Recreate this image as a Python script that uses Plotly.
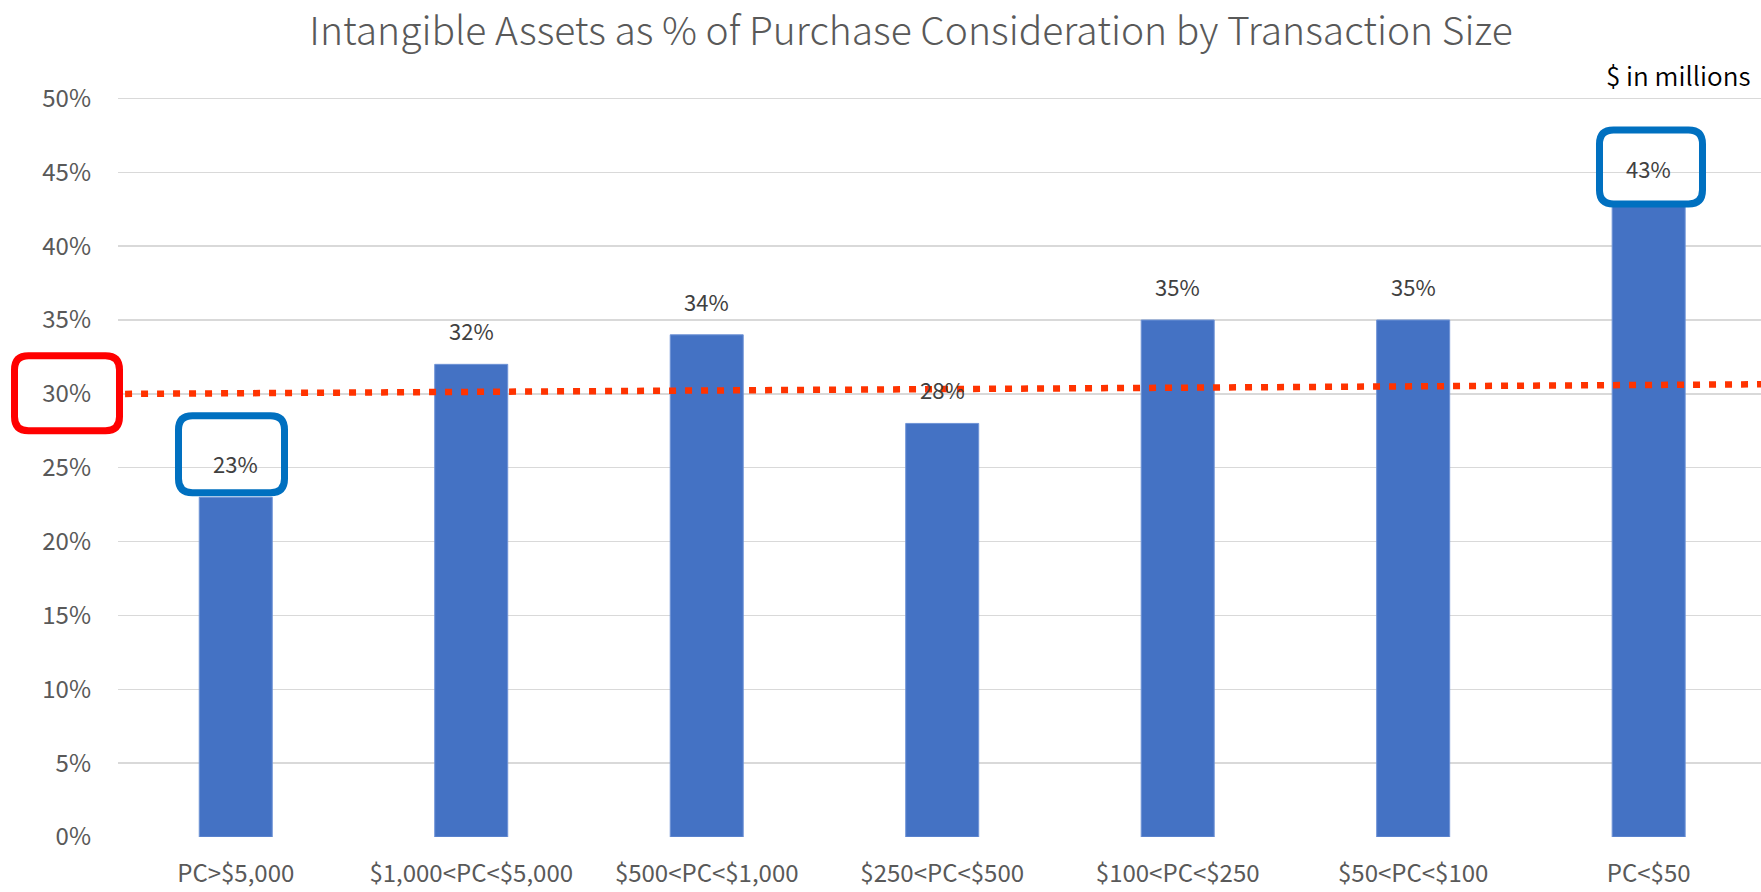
import plotly.graph_objects as go

# ---- data ----
categories = ["PC>$5,000", "$1,000<PC<$5,000", "$500<PC<$1,000", "$250<PC<$500",
              "$100<PC<$250", "$50<PC<$100", "PC<$50"]
values = [23, 32, 34, 28, 35, 35, 43]
y_ticks = [0, 5, 10, 15, 20, 25, 30, 35, 40, 45, 50]
ref_line_x = [-0.47, 6.48]
ref_line_y = [30.0, 30.65]

TITLE = "Intangible Assets as % of Purchase Consideration by Transaction Size"
NOTE = "$ in millions"

# ---- layout geometry (screen pixels; page body margin is removed) ----
W, H = 1761, 892
Y_TOP = 50.1
S_PL, S_PR, S_Y0, S_Y50 = 118, W, 837, 98   # plot left/right, y of 0% and 50%
ppu = (S_Y0 - S_Y50) / 50.0
S_PT = S_Y50 - (Y_TOP - 50) * ppu
L, R = S_PL, 0
T = S_PT
B = H - S_Y0

FONT = "Noto Sans CJK KR"

def px2paper(x, y):
    return (x - S_PL) / (S_PR - S_PL), (S_Y0 - y) / (S_Y0 - S_PT)

def rounded_rect(x0, y0, x1, y1, r):
    def P(x, y):
        a, b = px2paper(x, y)
        return f"{a:.5f},{b:.5f}"
    return (f"M {P(x0 + r, y0)} L {P(x1 - r, y0)} Q {P(x1, y0)} {P(x1, y0 + r)} "
            f"L {P(x1, y1 - r)} Q {P(x1, y1)} {P(x1 - r, y1)} "
            f"L {P(x0 + r, y1)} Q {P(x0, y1)} {P(x0, y1 - r)} "
            f"L {P(x0, y0 + r)} Q {P(x0, y0)} {P(x0 + r, y0)} Z")

fig = go.Figure()
fig.add_trace(go.Bar(
    x=list(range(len(categories))), y=values, width=0.31,
    marker=dict(color="#4472C4", line=dict(color="#6F93D6", width=1)),
    hoverinfo="skip", showlegend=False,
))
fig.add_trace(go.Scatter(
    x=ref_line_x, y=ref_line_y, mode="lines",
    line=dict(color="#FF3300", width=6.5, dash="7px,9px"),
    hoverinfo="skip", showlegend=False,
))

annotations = []
for i, v in enumerate(values):
    annotations.append(dict(x=i, y=v, text=f"{v}%", showarrow=False, yshift=34,
                            font=dict(family=FONT, size=22, color="#404040")))
nx, ny = px2paper(1752, 74)
annotations.append(dict(x=nx, y=ny, xref="paper", yref="paper", text=NOTE,
                        showarrow=False, xanchor="right", yanchor="middle",
                        font=dict(family=FONT, size=26, color="#000000", weight=350)))

shapes = []
for (x0, y0, x1, y1, col) in [(14.5, 355.5, 119.5, 430.5, "#FF0000"),
                              (178.5, 415.5, 284.5, 492.5, "#0070C0"),
                              (1599.5, 129.5, 1702.5, 203.5, "#0070C0")]:
    shapes.append(dict(type="path", xref="paper", yref="paper",
                       path=rounded_rect(x0, y0, x1, y1, 14),
                       line=dict(color=col, width=7), layer="above"))

fig.update_layout(
    width=W, height=H,
    margin=dict(l=L, r=R, t=T, b=B, pad=0),
    paper_bgcolor="white", plot_bgcolor="white",
    title=dict(text=TITLE, x=911 / W, y=1 - 31 / H,
               xref="container", yref="container",
               xanchor="center", yanchor="middle",
               font=dict(family=FONT, size=39, color="#595959", weight=300)),
    xaxis=dict(range=[-0.5, 6.477], tickmode="array",
               tickvals=list(range(len(categories))), ticktext=categories,
               showgrid=False, zeroline=False, showline=False, ticks="",
               ticklabelstandoff=20,
               tickfont=dict(family=FONT, size=24, color="#595959")),
    yaxis=dict(range=[0, Y_TOP], tickmode="array", tickvals=y_ticks,
               ticktext=[f"{t}%" for t in y_ticks],
               showgrid=True, gridcolor="#D9D9D9", gridwidth=1.5,
               zeroline=False, showline=False, ticks="", ticklabelstandoff=26,
               tickfont=dict(family=FONT, size=24, color="#595959")),
    annotations=annotations, shapes=shapes,
    font=dict(family=FONT),
)
fig.write_html("out.html",
               config={"displayModeBar": False, "staticPlot": True},
               post_script="document.body.style.margin='0';document.body.style.overflow='hidden';")
